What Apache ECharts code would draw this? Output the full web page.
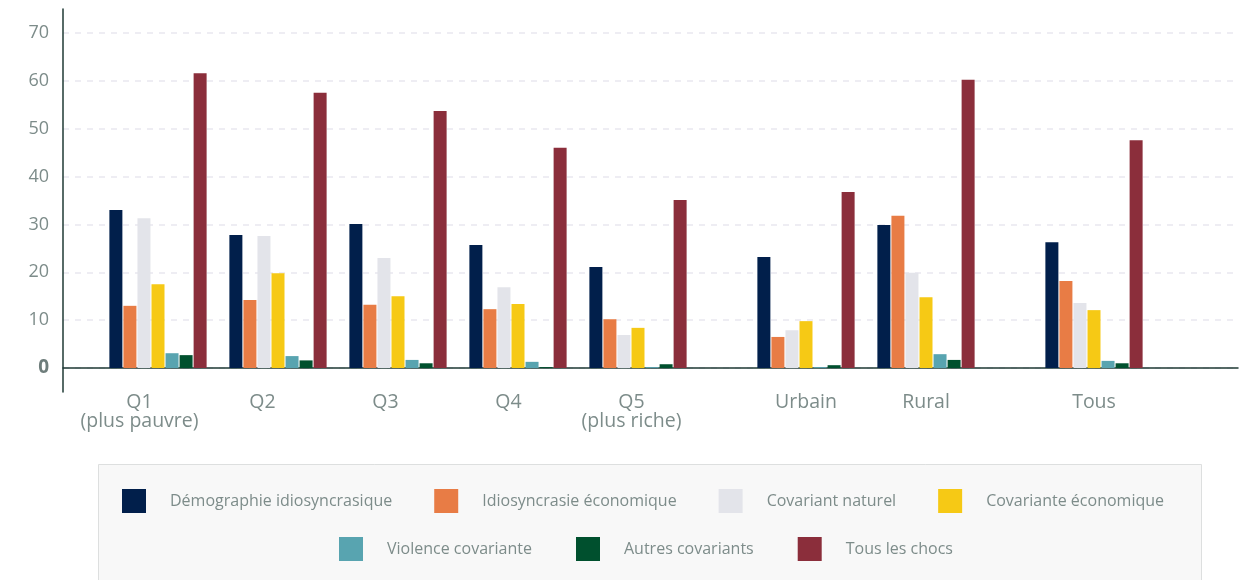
<!DOCTYPE html>
<html><head><meta charset="utf-8">
<script src="https://cdn.jsdelivr.net/npm/echarts@6/dist/echarts.min.js"></script>
<style>html,body{margin:0;padding:0;background:#fff}#c{width:1249px;height:580px}</style>
</head><body><div id="c"></div>
<script>
const groupLabels = ['Q1\n(plus pauvre)', 'Q2', 'Q3', 'Q4', 'Q5\n(plus riche)'];
const zoneLabels = ['Urbain', 'Rural'];
const totalLabels = ['Tous'];
const seriesNames = ['Démographie idiosyncrasique', 'Idiosyncrasie économique', 'Covariant naturel', 'Covariante économique', 'Violence covariante', 'Autres covariants', 'Tous les chocs'];
// values: Q1..Q5, Urbain, Rural, Tous
const demographie = [33.0, 27.8, 30.1, 25.7, 21.1, 23.2, 29.9, 26.3];
const idioEco     = [13.0, 14.2, 13.2, 12.3, 10.2, 6.5, 31.8, 18.2];
const covNaturel  = [31.3, 27.6, 23.0, 16.9, 6.9, 7.9, 19.9, 13.6];
const covEco      = [17.5, 19.8, 15.0, 13.4, 8.4, 9.8, 14.8, 12.1];
const violence    = [3.1, 2.5, 1.7, 1.3, 0.2, 0.2, 2.9, 1.5];
const autres      = [2.7, 1.6, 1.0, 0.2, 0.8, 0.6, 1.7, 1.0];
const tousChocs   = [61.6, 57.5, 53.7, 46.0, 35.1, 36.8, 60.2, 47.6];
const yTicks = [0, 10, 20, 30, 40, 50, 60, 70];

(function () {
const allValues = [demographie, idioEco, covNaturel, covEco, violence, autres, tousChocs];
const colors = ['#011f4b', '#e87c45', '#e3e4ea', '#f6c915', '#58a4b0', '#00502e', '#8b2e3b'];
const labelColor = '#7d8c8a';
const axisColor = '#1f3a35';
const font = 'Open Sans';

const gTop = 9, gBottom = 188;
const grids = [
  {left: 63, right: 11, top: gTop, bottom: gBottom},
  {left: 98, width: 600, top: gTop, bottom: gBottom},
  {left: 746, width: 240, top: gTop, bottom: gBottom},
  {left: 1034, width: 120, top: gTop, bottom: gBottom},
  {left: 78, width: 615, top: gTop, bottom: gBottom}
];
const yBase = {type: 'value', min: -5, max: 75, interval: 5};
const yAxes = grids.map((g, i) => Object.assign({}, yBase, {
  gridIndex: i,
  show: i === 0,
  axisLine: {show: i === 0, lineStyle: {color: axisColor, width: 1.5}},
  axisTick: {show: false},
  splitLine: {show: i === 0, lineStyle: {type: [6, 6], color: ['rgba(0,0,0,0)', '#e9e8ef'], width: 1.5}},
  axisLabel: {
    show: i === 0, margin: 14, fontFamily: font, fontSize: 18, color: labelColor,
    formatter: v => yTicks.indexOf(v) < 0 ? '' : (v === 0 ? '{z|0}' : String(v)),
    rich: {z: {fontFamily: font, fontSize: 19, fontWeight: 'bold', color: '#6e7d7b'}}
  }
}));

const xLabelStyle = {fontFamily: font, fontSize: 19.5, color: labelColor, lineHeight: 19, margin: 1, interval: 0};
const xAxes = [
  {gridIndex: 0, type: 'category', data: [''], axisLine: {onZero: true, lineStyle: {color: axisColor, width: 1.5}}, axisTick: {show: false}, axisLabel: {show: false}},
  {gridIndex: 1, type: 'category', data: groupLabels, axisLine: {show: false, onZero: false}, axisTick: {show: false}, axisLabel: {show: false}},
  {gridIndex: 2, type: 'category', data: zoneLabels, axisLine: {show: false, onZero: false}, axisTick: {show: false}, axisLabel: xLabelStyle},
  {gridIndex: 3, type: 'category', data: totalLabels, axisLine: {show: false, onZero: false}, axisTick: {show: false}, axisLabel: xLabelStyle},
  {gridIndex: 4, type: 'category', data: groupLabels, axisLine: {show: false, onZero: false}, axisTick: {show: false}, axisLabel: xLabelStyle}
];

const slices = [[1, 0, 5], [2, 5, 7], [3, 7, 8]];
const series = [];
slices.forEach(([gi, a, b]) => {
  seriesNames.forEach((name, si) => {
    series.push({
      name, type: 'bar', xAxisIndex: gi, yAxisIndex: gi,
      data: allValues[si].slice(a, b),
      barWidth: 13, barGap: '8%',
      itemStyle: {color: colors[si]},
      emphasis: {disabled: true}
    });
  });
});

const legendText = {fontFamily: font, fontSize: 16, color: labelColor, padding: [0, 0, 0, 19]};
const chart = echarts.init(document.getElementById('c'), null, {renderer: 'canvas'});
chart.setOption({
  animation: false,
  color: colors,
  graphic: [{type: 'rect', left: 98, top: 464, shape: {width: 1103, height: 140}, style: {fill: '#f8f8f8', stroke: '#dddfdf', lineWidth: 1}, z: -1}],
  legend: [
    {data: seriesNames.slice(0, 4), left: 122, top: 489, padding: 0, itemWidth: 24, itemHeight: 24, itemGap: 42, icon: 'rect', textStyle: legendText, selectedMode: false},
    {data: seriesNames.slice(4), left: 339, top: 537, padding: 0, itemWidth: 24, itemHeight: 24, itemGap: 44, icon: 'rect', textStyle: legendText, selectedMode: false}
  ],
  grid: grids,
  xAxis: xAxes,
  yAxis: yAxes,
  series
});
})();
</script></body></html>
